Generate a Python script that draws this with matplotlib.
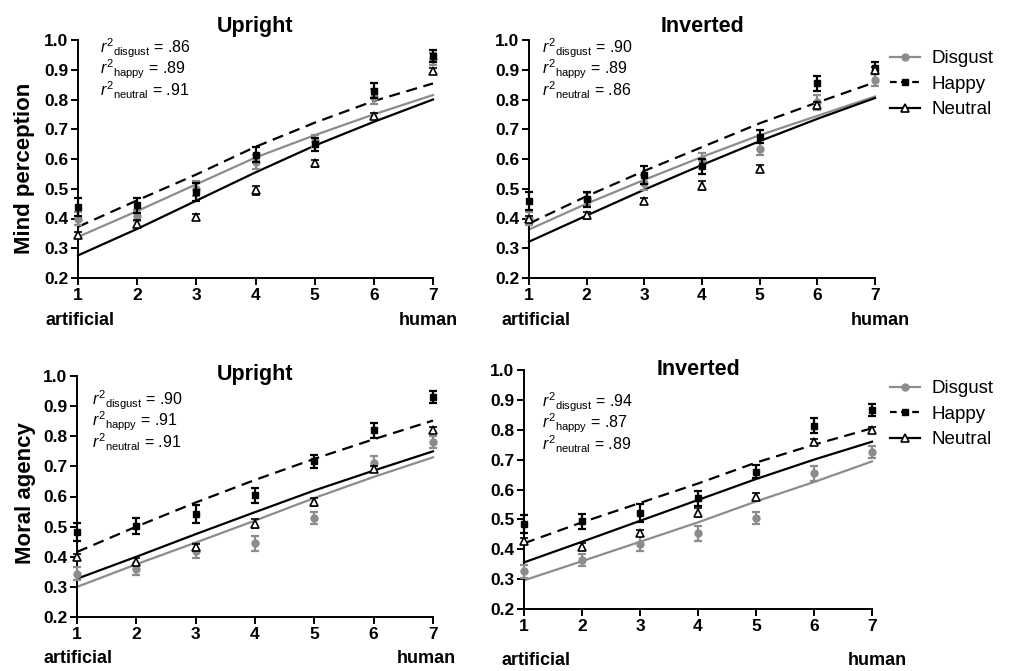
import matplotlib
matplotlib.use('Agg')
import matplotlib.pyplot as plt
from matplotlib.lines import Line2D

plt.rcParams['font.family'] = ['Liberation Sans', 'DejaVu Sans']
plt.rcParams['mathtext.fontset'] = 'custom'
plt.rcParams['mathtext.rm'] = 'Liberation Sans'
plt.rcParams['mathtext.it'] = 'Liberation Sans:italic'

GRAY = '#8c8c8c'

X = [1, 2, 3, 4, 5, 6, 7]

# mind perception, upright faces
MP_UP_DISGUST = [0.40, 0.41, 0.50, 0.59, 0.66, 0.81, 0.935]
MP_UP_HAPPY = [0.44, 0.445, 0.49, 0.615, 0.65, 0.83, 0.945]
MP_UP_NEUTRAL = [0.345, 0.383, 0.405, 0.495, 0.585, 0.745, 0.895]
MP_UP_FIT_DISGUST = [0.338, 0.425, 0.515, 0.605, 0.68, 0.75, 0.815]
MP_UP_FIT_HAPPY = [0.372, 0.461, 0.548, 0.641, 0.722, 0.795, 0.854]
MP_UP_FIT_NEUTRAL = [0.276, 0.365, 0.46, 0.555, 0.645, 0.725, 0.80]
MP_UP_R2 = ['.86', '.89', '.91']

# mind perception, inverted faces
MP_INV_DISGUST = [0.40, 0.465, 0.52, 0.595, 0.635, 0.79, 0.865]
MP_INV_HAPPY = [0.46, 0.465, 0.545, 0.575, 0.675, 0.855, 0.905]
MP_INV_NEUTRAL = [0.40, 0.411, 0.458, 0.51, 0.568, 0.781, 0.899]
MP_INV_FIT_DISGUST = [0.363, 0.45, 0.53, 0.607, 0.68, 0.745, 0.81]
MP_INV_FIT_HAPPY = [0.383, 0.475, 0.56, 0.64, 0.72, 0.79, 0.858]
MP_INV_FIT_NEUTRAL = [0.322, 0.41, 0.497, 0.58, 0.66, 0.735, 0.805]
MP_INV_R2 = ['.90', '.89', '.86']

# moral agency, upright faces
MA_UP_DISGUST = [0.344, 0.36, 0.42, 0.445, 0.53, 0.71, 0.78]
MA_UP_HAPPY = [0.482, 0.502, 0.541, 0.604, 0.717, 0.82, 0.931]
MA_UP_NEUTRAL = [0.40, 0.383, 0.433, 0.51, 0.582, 0.69, 0.82]
MA_UP_FIT_DISGUST = [0.30, 0.375, 0.447, 0.52, 0.595, 0.665, 0.73]
MA_UP_FIT_HAPPY = [0.416, 0.50, 0.58, 0.655, 0.725, 0.79, 0.852]
MA_UP_FIT_NEUTRAL = [0.327, 0.40, 0.475, 0.548, 0.62, 0.686, 0.75]
MA_UP_R2 = ['.90', '.91', '.91']

# moral agency, inverted faces
MA_INV_DISGUST = [0.326, 0.365, 0.418, 0.454, 0.504, 0.655, 0.727]
MA_INV_HAPPY = [0.484, 0.493, 0.521, 0.571, 0.66, 0.813, 0.866]
MA_INV_NEUTRAL = [0.426, 0.409, 0.456, 0.523, 0.576, 0.76, 0.80]
MA_INV_FIT_DISGUST = [0.296, 0.36, 0.425, 0.49, 0.56, 0.625, 0.694]
MA_INV_FIT_HAPPY = [0.42, 0.49, 0.555, 0.62, 0.69, 0.75, 0.805]
MA_INV_FIT_NEUTRAL = [0.356, 0.425, 0.495, 0.565, 0.635, 0.70, 0.76]
MA_INV_R2 = ['.94', '.87', '.89']

# standard errors (approximate, shared across panels)
DISGUST_SE = [0.022, 0.02, 0.025, 0.025, 0.02, 0.025, 0.02]
HAPPY_SE = [0.03, 0.025, 0.03, 0.025, 0.022, 0.025, 0.02]
NEUTRAL_SE = [0.01, 0.012, 0.01, 0.015, 0.012, 0.01, 0.01]

YTICKS = [0.2, 0.3, 0.4, 0.5, 0.6, 0.7, 0.8, 0.9, 1.0]
R2_NAMES = ['disgust', 'happy', 'neutral']

W, H = 1016, 671


def px_rect(left, right, top, bottom):
    return [left / W, 1 - bottom / H, (right - left) / W, (bottom - top) / H]


def draw_panel(ax, disgust, happy, neutral, fit_d, fit_h, fit_n, title, title_y):
    ax.plot(X, fit_d, color=GRAY, lw=1.6, clip_on=False, zorder=2)
    ax.plot(X, fit_h, color='black', lw=1.6, ls=(0, (5, 3)), clip_on=False, zorder=2)
    ax.plot(X, fit_n, color='black', lw=1.6, clip_on=False, zorder=2)

    ax.errorbar(X, disgust, yerr=DISGUST_SE, fmt='o', color=GRAY, ms=5,
                elinewidth=1.6, capsize=3, capthick=1.6, clip_on=False, zorder=3)
    ax.errorbar(X, happy, yerr=HAPPY_SE, fmt='s', color='black', ms=4.5,
                elinewidth=1.6, capsize=3, capthick=1.6, clip_on=False, zorder=4)
    ax.errorbar(X, neutral, yerr=NEUTRAL_SE, fmt='^', color='black', mfc='white',
                mec='black', mew=1.2, ms=5.5, elinewidth=1.0, capsize=3,
                capthick=1.0, clip_on=False, zorder=5)

    ax.set_xlim(1, 7)
    ax.set_ylim(0.2, 1.0)
    ax.set_xticks(X)
    ax.set_yticks(YTICKS)
    ax.set_yticklabels([f'{v:.1f}' for v in YTICKS])
    for side in ['top', 'right']:
        ax.spines[side].set_visible(False)
    for side in ['left', 'bottom']:
        ax.spines[side].set_linewidth(1.4)
    ax.tick_params(direction='out', length=5, width=1.4, labelsize=12.5, pad=2)
    for lab in ax.get_xticklabels() + ax.get_yticklabels():
        lab.set_fontweight('bold')

    ax.text(0.5, title_y, title, transform=ax.transAxes, ha='center',
            va='baseline', fontsize=15.5, fontweight='bold')


fig = plt.figure(figsize=(W / 100, H / 100), dpi=100)

panels = [
    (px_rect(78, 433, 40, 278), MP_UP_DISGUST, MP_UP_HAPPY, MP_UP_NEUTRAL,
     MP_UP_FIT_DISGUST, MP_UP_FIT_HAPPY, MP_UP_FIT_NEUTRAL, MP_UP_R2,
     'Upright', 1.034, (100, 53), (45, 325), (458, 325)),
    (px_rect(529, 875, 40, 278), MP_INV_DISGUST, MP_INV_HAPPY, MP_INV_NEUTRAL,
     MP_INV_FIT_DISGUST, MP_INV_FIT_HAPPY, MP_INV_FIT_NEUTRAL, MP_INV_R2,
     'Inverted', 1.034, (542, 53), (502, 325), (910, 325)),
    (px_rect(77, 433, 376, 617), MA_UP_DISGUST, MA_UP_HAPPY, MA_UP_NEUTRAL,
     MA_UP_FIT_DISGUST, MA_UP_FIT_HAPPY, MA_UP_FIT_NEUTRAL, MA_UP_R2,
     'Upright', 0.983, (92, 405), (43, 663), (456, 663)),
    (px_rect(524, 872, 370, 609), MA_INV_DISGUST, MA_INV_HAPPY, MA_INV_NEUTRAL,
     MA_INV_FIT_DISGUST, MA_INV_FIT_HAPPY, MA_INV_FIT_NEUTRAL, MA_INV_R2,
     'Inverted', 0.979, (542, 407), (502, 665), (907, 665)),
]

for (rect, d, h, n, fd, fh, fn, r2, title, ty, r2pos, artpos, humpos) in panels:
    ax = fig.add_axes(rect)
    draw_panel(ax, d, h, n, fd, fh, fn, title, ty)
    for i, (name, val) in enumerate(zip(R2_NAMES, r2)):
        fig.text(r2pos[0] / W, 1 - (r2pos[1] + i * 21.7) / H,
                 r'${\mathit{r}^{2}}_{\mathrm{' + name + '}}$ = ' + val,
                 fontsize=11.5, va='baseline', ha='left')
    fig.text(artpos[0] / W, 1 - artpos[1] / H, 'artificial', fontsize=13,
             fontweight='bold', va='baseline', ha='left')
    fig.text(humpos[0] / W, 1 - humpos[1] / H, 'human', fontsize=13,
             fontweight='bold', va='baseline', ha='right')

fig.text(25 / W, 1 - 168 / H, 'Mind perception', rotation=90, fontsize=16,
         fontweight='bold', ha='center', va='center')
fig.text(25 / W, 1 - 493 / H, 'Moral agency', rotation=90, fontsize=16,
         fontweight='bold', ha='center', va='center')

handles = [
    Line2D([], [], color=GRAY, lw=1.6, marker='o', ms=5),
    Line2D([], [], color='black', lw=1.6, ls=(0, (3, 2)), marker='s', ms=4.5),
    Line2D([], [], color='black', lw=1.6, marker='^', ms=5.5, mfc='white', mew=1.2),
]
labels = ['Disgust', 'Happy', 'Neutral']
for top in (50, 380):
    fig.legend(handles, labels, loc='upper left',
               bbox_to_anchor=(890 / W, 1 - top / H), frameon=False,
               fontsize=13.5, handlelength=1.6, handletextpad=0.6,
               labelspacing=0.45, borderaxespad=0, borderpad=0)

fig.savefig('out.png', dpi=100)
